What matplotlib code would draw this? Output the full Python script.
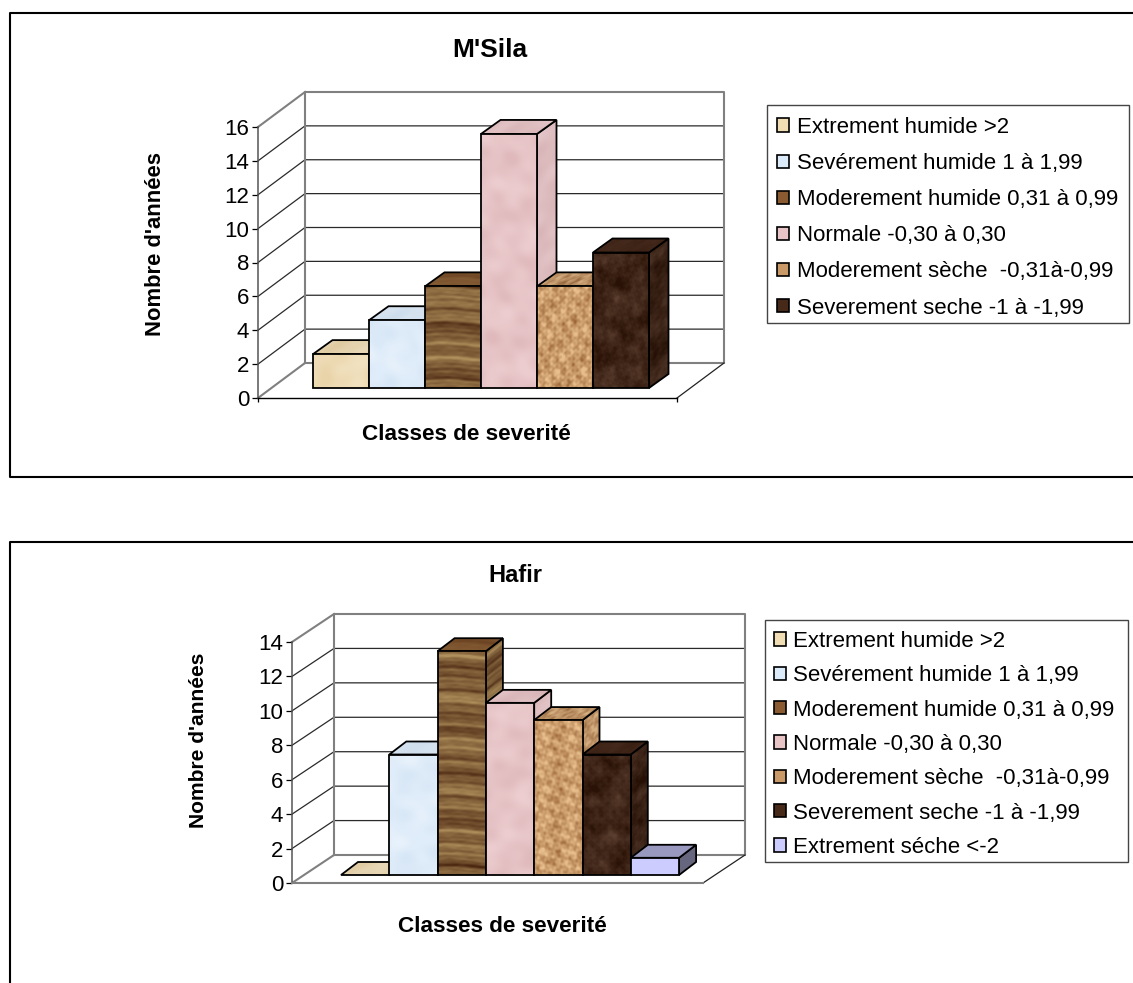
import numpy as np
import matplotlib
matplotlib.use("Agg")
import matplotlib.pyplot as plt
from matplotlib.colors import to_rgb
from matplotlib.lines import Line2D
from matplotlib.patches import Patch, Polygon, Rectangle
from matplotlib.transforms import Affine2D

plt.rcParams["font.family"] = ["Liberation Sans", "DejaVu Sans"]

W, H = 1133, 983

# data
classes = ["Extrement humide >2", "Sevérement humide 1 à 1,99",
           "Moderement humide 0,31 à 0,99", "Normale -0,30 à 0,30",
           "Moderement sèche  -0,31à-0,99", "Severement seche -1 à -1,99",
           "Extrement séche <-2"]
msila_values = [2, 4, 6, 15, 6, 8]
hafir_values = [0, 7, 13, 10, 9, 7, 1]
msila_ticks = [0, 2, 4, 6, 8, 10, 12, 14, 16]
hafir_ticks = [0, 2, 4, 6, 8, 10, 12, 14]

# style: texture kind, two texture colours, legend colour
styles = [
    ("soft", "#F3E4C4", "#E9D3A8", "#F0DDB4"),
    ("soft", "#E8F2FC", "#D6E6F6", "#DCEBFA"),
    ("wood", "#4A2610", "#B0905C", "#8A5A30"),
    ("soft", "#EECFD1", "#DFB9BC", "#E8C4C6"),
    ("cork", "#8A5226", "#E8BE8C", "#C99A68"),
    ("dark", "#2A1206", "#6E5140", "#47291A"),
    ("flat", "#CCCCFF", "#CCCCFF", "#CCCCFF"),
]


def px(x):
    return x / W


def py(y):
    return 1 - y / H


def blobs(xx, yy, scale, seed):
    # blotchy surface made of a few turned waves
    out = np.zeros(xx.shape)
    for k in range(7):
        ang = k * 2.4 + seed
        f = scale * (1 + 0.37 * k)
        out += np.sin(f * (xx * np.cos(ang) + yy * np.sin(ang)) + k * 1.3 + seed) / (1 + 0.3 * k)
    return out / 3.2


def texture(kind, c1, c2, rows, cols, seed):
    yy, xx = np.mgrid[0:rows, 0:cols].astype(float)
    if kind == "wood":
        warp = yy + 1.5 * np.sin(xx * 0.07 + seed)
        t = (0.55 + 0.14 * np.sin(warp * 0.13 + seed) + 0.13 * np.sin(warp * 0.29 + 2 * seed)
             + 0.12 * np.sin(warp * 0.47 + 0.7) + 0.1 * np.sin(warp * 0.83 + seed)
             + 0.07 * np.sin(warp * 1.37) + 0.1 * blobs(xx * 0.25, yy, 0.9, seed))
    elif kind == "cork":
        t = 0.68 + 0.35 * blobs(xx, yy, 0.55, seed) + 0.25 * blobs(xx, yy, 0.23, seed + 2)
    elif kind == "dark":
        t = 0.3 + 0.3 * blobs(xx, yy, 0.12, seed) + 0.14 * blobs(xx, yy, 0.3, seed + 2) + 0.12 * blobs(xx, yy, 0.7, seed + 1)
    elif kind == "soft":
        t = 0.5 + 0.5 * blobs(xx, yy, 0.11, seed)
    else:
        t = np.zeros(xx.shape)
    t = np.clip(t, 0, 1)[..., None]
    a = np.array(to_rgb(c1))
    b = np.array(to_rgb(c2))
    return a * (1 - t) + b * t


def draw_face(ax, tex, p0, pu, pv, z, shade=1.0):
    # unit square -> parallelogram p0, p0+pu, p0+pv
    m = Affine2D(np.array([[pu[0], pv[0], p0[0]], [pu[1], pv[1], p0[1]], [0, 0, 1]]))
    pts = [p0, p0 + pu, p0 + pu + pv, p0 + pv]
    outline = Polygon(pts, closed=True, fill=False, edgecolor="black", lw=1.3,
                      joinstyle="miter", clip_on=False, zorder=z + 0.5)
    ax.add_patch(outline)
    im = ax.imshow(np.clip(tex * shade, 0, 1), extent=(0, 1, 0, 1), origin="lower", aspect="auto",
                   interpolation="bilinear", transform=m + ax.transData, zorder=z)
    im.set_clip_box(fig.bbox)
    im.set_clip_path(outline.get_path(), outline.get_transform())


def panel(values, ticks, cfg):
    x0, x1, y0, yt = cfg["x0"], cfg["x1"], cfg["y0"], cfg["yt"]
    ax = fig.add_axes([px(x0), py(y0), px(x1 - x0), (y0 - yt) / H])
    step = cfg["bar_w"]
    ax.set_xlim(-(cfg["bar_x"] - x0) / step, (x1 - cfg["bar_x"]) / step)
    ax.set_ylim(0, ticks[-1])
    ax.autoscale(False)
    ax.patch.set_alpha(0)

    ppu_y = (y0 - yt) / ticks[-1]
    # depth in data units
    depth = np.array([cfg["depth"][0] / step, cfg["depth"][1] / ppu_y])
    bar_front = np.array([0, cfg["bar_lift"] / ppu_y])
    bar_depth = np.array([cfg["bar_depth"][0] / step, cfg["bar_depth"][1] / ppu_y])
    left, right = ax.get_xlim()
    top = ticks[-1]

    for s in ["top", "right"]:
        ax.spines[s].set_visible(False)
    ax.spines["left"].set_linewidth(1.1)
    ax.spines["left"].set_color("#555555")
    ax.spines["bottom"].set_color(cfg["front_color"])
    ax.spines["bottom"].set_linewidth(1.0 if cfg["front_color"] == "black" else 1.5)
    ax.set_yticks(ticks)
    ax.tick_params(axis="y", labelsize=16, length=4.3, width=0.9, pad=2)
    ax.set_xticks([left, right])
    ax.set_xticklabels([])
    ax.tick_params(axis="x", length=cfg["xtick_len"], width=0.9)

    # gridlines, side wall and floor
    grey = "#808080"
    for t in ticks[1:-1]:
        ax.plot([left, left + depth[0], right + depth[0]],
                [t, t + depth[1], t + depth[1]], color="#2a2a2a", lw=0.9, clip_on=False, zorder=1)
    ax.plot([left + depth[0], right + depth[0], right + depth[0], left + depth[0], left + depth[0]],
            [depth[1], depth[1], top + depth[1], top + depth[1], depth[1]],
            color=grey, lw=1.5, clip_on=False, zorder=1.1)
    ax.plot([left, left + depth[0]], [top, top + depth[1]], color=grey, lw=1.5,
            clip_on=False, zorder=1.1)
    ax.plot([left, left + depth[0]], [0, depth[1]], color=grey, lw=1.5, clip_on=False, zorder=1.2)
    ax.plot([right, right + depth[0]], [0, depth[1]], color="#222222", lw=0.9, clip_on=False, zorder=1.2)

    # bars, left to right so each one hides the side of the previous one
    for i, v in enumerate(values):
        kind, c1, c2, leg_c = styles[i]
        rows = max(int(v * ppu_y), 16)
        tex = texture(kind, c1, c2, rows, int(step), seed=i * 1.7 + cfg["seed"])
        z = 3 + i * 2
        p0 = np.array([i, 0.0]) + bar_front
        pu = np.array([1.0, 0.0])
        pv = np.array([0.0, float(v)])
        if kind == "flat":
            top_shade, side_shade = 0.75, 0.5
        elif kind in ("wood", "cork", "dark"):
            top_shade, side_shade = 0.92, 0.92
        else:
            top_shade, side_shade = 0.96, 0.96
        d_w = int(cfg["bar_depth"][0])
        d_h = int(cfg["bar_depth"][1])
        top_tex = tex[:d_h, :]
        if kind in ("wood", "dark"):
            top_tex = 0.3 * top_tex + 0.7 * np.array(to_rgb(leg_c))
        draw_face(ax, tex[:, :d_w], p0 + pu, bar_depth, pv, z, side_shade)
        draw_face(ax, top_tex, p0 + pv, pu, bar_depth, z + 0.6, top_shade)
        if v > 0:
            draw_face(ax, tex, p0, pu, pv, z + 1.2)

    n = len(values)
    handles = [Patch(facecolor=styles[i][3], edgecolor="black", lw=1.2) for i in range(n)]
    bx0, by0, bx1, by1 = cfg["leg_box"]
    fig.add_artist(Rectangle((px(bx0), py(by1)), px(bx1 - bx0), (by1 - by0) / H, fill=False,
                             edgecolor="#444444", lw=1.0, transform=fig.transFigure))
    fig.legend(handles, classes[:n], loc="upper left", ncol=1, frameon=False,
               bbox_to_anchor=(px(bx0), py(by0 + 2)), borderaxespad=0,
               fontsize=16, handlelength=0.55, handleheight=0.55, handletextpad=0.33,
               labelspacing=cfg["leg_space"], borderpad=cfg["leg_pad"])

    fig.text(px(cfg["title"][0]), py(cfg["title"][1]), cfg["name"], fontsize=cfg["title_size"],
             fontweight="bold", ha="center", va="center")
    fig.text(px(cfg["ylab"][0]), py(cfg["ylab"][1]), "Nombre d'années", fontsize=cfg["ylab_size"],
             fontweight="bold", rotation=90, ha="center", va="center")
    fig.text(px(cfg["xlab"][0]), py(cfg["xlab"][1]), "Classes de severité", fontsize=16.2,
             fontweight="bold", ha="center", va="center")
    return ax


fig = plt.figure(figsize=(W / 100, H / 100), dpi=100, facecolor="white")

# panel frames
for xs, ys in [([W, 10, 10, W], [12.5, 12.5, 477.5, 477.5]), ([W, 10, 10], [541.5, 541.5, H])]:
    fig.add_artist(Line2D([px(x) for x in xs], [py(y) for y in ys], color="black", lw=1.5))

panel(msila_values, msila_ticks, dict(
    name="M'Sila", x0=258, x1=677, y0=398, yt=127, bar_w=56, bar_x=313, bar_lift=10,
    depth=(47, 35), bar_depth=(19.5, 14), front_color="black", xtick_len=3,
    seed=0.0, leg_box=(767, 105, 1129, 323), leg_space=0.68, leg_pad=0.45,
    title=(490, 50), title_size=19, ylab=(155.5, 244), ylab_size=15.8, xlab=(466, 434)))

panel(hafir_values, hafir_ticks, dict(
    name="Hafir", x0=292, x1=703, y0=883, yt=642, bar_w=48.3, bar_x=341, bar_lift=8,
    depth=(42, 28), bar_depth=(17, 13), front_color="#808080", xtick_len=0,
    seed=0.6, leg_box=(765, 620, 1128, 862), leg_space=0.6, leg_pad=0.4,
    title=(515, 576), title_size=17, ylab=(198, 740), ylab_size=15.1, xlab=(502.5, 927)))

fig.savefig("out.png", dpi=100)
